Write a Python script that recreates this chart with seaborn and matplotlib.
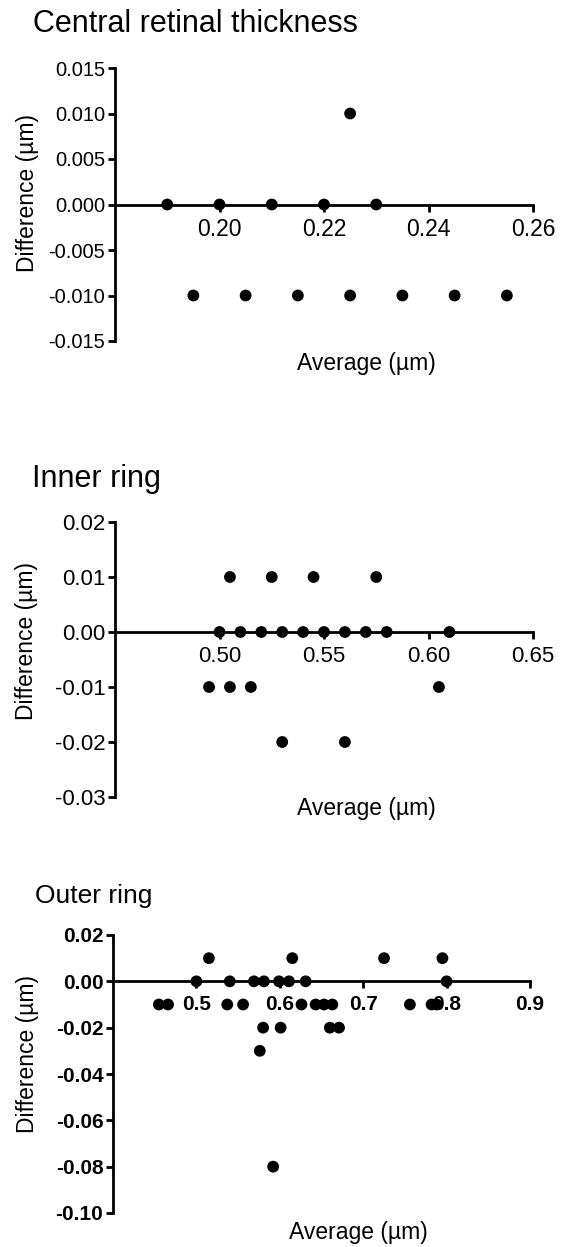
import matplotlib
matplotlib.use("Agg")
import matplotlib.pyplot as plt
import seaborn as sns
import pandas as pd

sns.set_theme(style="white")
plt.rcParams['font.family'] = ['Liberation Sans', 'DejaVu Sans']
plt.rcParams['axes.unicode_minus'] = False

# ---- Data ----
crt_avg = [0.19, 0.20, 0.21, 0.22, 0.23, 0.225,
           0.195, 0.205, 0.215, 0.225, 0.235, 0.245, 0.255]
crt_diff = [0.0, 0.0, 0.0, 0.0, 0.0, 0.01,
            -0.01, -0.01, -0.01, -0.01, -0.01, -0.01, -0.01]

inner_avg = [0.50, 0.51, 0.52, 0.53, 0.54, 0.55, 0.56, 0.57, 0.58, 0.61,
             0.505, 0.525, 0.545, 0.575,
             0.495, 0.505, 0.515, 0.605,
             0.53, 0.56]
inner_diff = [0.0] * 10 + [0.01] * 4 + [-0.01] * 4 + [-0.02] * 2

outer_avg = [0.515, 0.615, 0.725, 0.795,
             0.50, 0.54, 0.569, 0.581, 0.599, 0.611, 0.631, 0.80,
             0.455, 0.466, 0.537, 0.556, 0.626, 0.643, 0.653, 0.663, 0.756, 0.782, 0.788,
             0.58, 0.601, 0.66, 0.671,
             0.576,
             0.592]
outer_diff = ([0.01] * 4 + [0.0] * 8 + [-0.01] * 11 + [-0.02] * 4 + [-0.03] + [-0.08])

W, H = 569, 1247
fig = plt.figure(figsize=(W / 100, H / 100), dpi=100)


def px_axes(left, right, top, bottom):
    return fig.add_axes([left / W, 1 - bottom / H, (right - left) / W, (bottom - top) / H])


panels = [
    dict(title="Central retinal thickness", x=crt_avg, y=crt_diff,
         box=(115, 533, 68, 341), xlim=(0.18, 0.26), ylim=(-0.015, 0.015),
         xticks=[0.20, 0.22, 0.24, 0.26], xfmt="{:.2f}",
         yticks=[-0.015, -0.010, -0.005, 0.0, 0.005, 0.010, 0.015], yfmt="{:.3f}",
         title_pos=(33, 32), title_size=22, xts=16.5, yts=14.5, bold=False,
         xlab=(366, 363), ylab=(28, 193)),
    dict(title="Inner ring", x=inner_avg, y=inner_diff,
         box=(115, 533, 522, 797), xlim=(0.45, 0.65), ylim=(-0.03, 0.02),
         xticks=[0.50, 0.55, 0.60, 0.65], xfmt="{:.2f}",
         yticks=[-0.03, -0.02, -0.01, 0.0, 0.01, 0.02], yfmt="{:.2f}",
         title_pos=(32, 487), title_size=22, xts=16, yts=16, bold=False,
         xlab=(366, 808), ylab=(27, 641)),
    dict(title="Outer ring", x=outer_avg, y=outer_diff,
         box=(113, 530, 935, 1213), xlim=(0.4, 0.9), ylim=(-0.10, 0.02),
         xticks=[0.5, 0.6, 0.7, 0.8, 0.9], xfmt="{:.1f}",
         yticks=[-0.10, -0.08, -0.06, -0.04, -0.02, 0.0, 0.02], yfmt="{:.2f}",
         title_pos=(35, 903), title_size=19, xts=15, yts=15, bold=True,
         xlab=(358, 1232), ylab=(28, 1054)),
]

for p in panels:
    l, r, t, b = p["box"]
    ax = px_axes(l, r, t, b)
    df = pd.DataFrame({"Average": p["x"], "Difference": p["y"]})
    sns.scatterplot(data=df, x="Average", y="Difference", ax=ax, color="black",
                    s=72, edgecolor="none", zorder=3, clip_on=False)
    ax.set_xlim(*p["xlim"])
    ax.set_ylim(*p["ylim"])
    for side in ("top", "right"):
        ax.spines[side].set_visible(False)
    ax.spines["bottom"].set_position(("data", 0))
    for side in ("left", "bottom"):
        ax.spines[side].set_linewidth(2.0)
        ax.spines[side].set_color("black")
    ax.set_xticks(p["xticks"])
    ax.set_xticklabels([p["xfmt"].format(v) for v in p["xticks"]],
                       fontsize=p["xts"], fontweight="bold" if p["bold"] else "normal")
    ax.set_yticks(p["yticks"])
    ax.set_yticklabels([p["yfmt"].format(v) for v in p["yticks"]],
                       fontsize=p["yts"], fontweight="bold" if p["bold"] else "normal")
    ax.tick_params(axis="both", direction="out", length=5, width=2.0, color="black",
                   labelcolor="black", left=True, bottom=True)
    ax.tick_params(axis="x", pad=5)
    ax.tick_params(axis="y", pad=2)
    ax.set_xlabel("Average (µm)", fontsize=16.5, color="black")
    ax.set_ylabel("Difference (µm)", fontsize=16.5, color="black")
    ax.xaxis.set_label_coords(p["xlab"][0] / W, 1 - p["xlab"][1] / H, transform=fig.transFigure)
    ax.yaxis.set_label_coords(p["ylab"][0] / W, 1 - p["ylab"][1] / H, transform=fig.transFigure)
    ax.xaxis.label.set_verticalalignment("center")
    ax.yaxis.label.set_verticalalignment("center")
    ax.set_facecolor("none")
    fig.text(p["title_pos"][0] / W, 1 - p["title_pos"][1] / H, p["title"],
             fontsize=p["title_size"], ha="left", va="baseline", color="black")

fig.savefig("out.png", dpi=100, facecolor="white")
